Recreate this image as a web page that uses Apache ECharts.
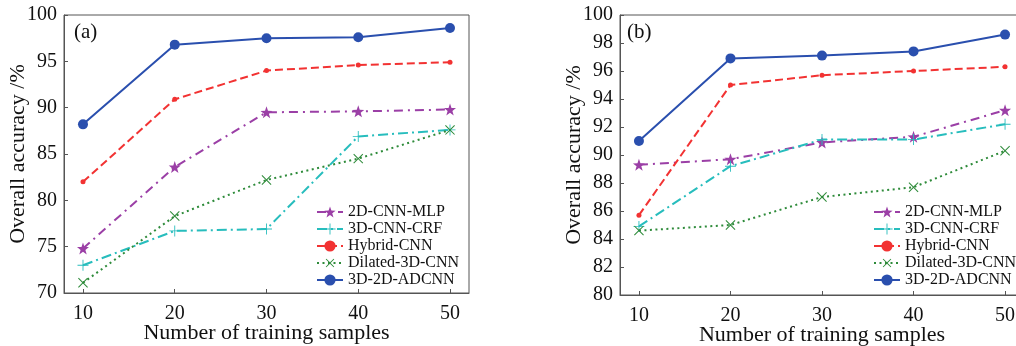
<!DOCTYPE html>
<html><head><meta charset="utf-8">
<script src="https://cdn.jsdelivr.net/npm/echarts@6/dist/echarts.min.js"></script>
<style>html,body{margin:0;padding:0;background:#fff}#c{width:1016px;height:346px}</style>
</head><body><div id="c"></div>
<script>
const samples = [10, 20, 30, 40, 50];
const seriesNames = ['2D-CNN-MLP', '3D-CNN-CRF', 'Hybrid-CNN', 'Dilated-3D-CNN', '3D-2D-ADCNN'];
// panel (a)
const mlpA = [74.8, 83.6, 89.5, 89.6, 89.8];
const crfA = [73.0, 76.7, 76.9, 86.9, 87.6];
const hybridA = [82.0, 90.9, 94.0, 94.6, 94.9];
const dilatedA = [71.1, 78.3, 82.2, 84.5, 87.6];
const adcnnA = [88.2, 96.8, 97.5, 97.6, 98.6];
// panel (b)
const mlpB = [89.3, 89.7, 90.9, 91.3, 93.2];
const crfB = [84.9, 89.2, 91.1, 91.1, 92.2];
const hybridB = [85.7, 95.0, 95.7, 96.0, 96.3];
const dilatedB = [84.6, 85.0, 87.0, 87.7, 90.3];
const adcnnB = [91.0, 96.9, 97.1, 97.4, 98.6];

const FONT = '"Liberation Serif","DejaVu Serif",serif';
function starPath() {
  let p = [];
  for (let i = 0; i < 10; i++) {
    const r = i % 2 === 0 ? 10 : 4;
    const a = -Math.PI / 2 + i * Math.PI / 5;
    p.push((i ? 'L' : 'M') + (r * Math.cos(a)).toFixed(2) + ',' + (r * Math.sin(a)).toFixed(2));
  }
  return 'path://' + p.join(' ') + ' Z';
}
const PLUS = 'path://M-0.8,-10 L0.8,-10 L0.8,-0.8 L10,-0.8 L10,0.8 L0.8,0.8 L0.8,10 L-0.8,10 L-0.8,0.8 L-10,0.8 L-10,-0.8 L-0.8,-0.8 Z';
const styles = [
  {color: '#9b3fa6', type: [9, 5, 2, 5], symbol: starPath(), size: 12, rot: 0},
  {color: '#27bdbd', type: [10, 4, 2, 4], symbol: PLUS, size: 11, rot: 0},
  {color: '#f23232', type: [8, 4], symbol: 'circle', size: 5, rot: 0},
  {color: '#2e8b3a', type: [2, 3.5], symbol: PLUS, size: 13, rot: 45},
  {color: '#2a4fae', type: 'solid', symbol: 'circle', size: 10, rot: 0}
];
const dataA = [mlpA, crfA, hybridA, dilatedA, adcnnA];
const dataB = [mlpB, crfB, hybridB, dilatedB, adcnnB];

function mkSeries(arr, idx) {
  return arr.map((vals, i) => ({
    name: seriesNames[i], type: 'line', xAxisIndex: idx, yAxisIndex: idx,
    data: samples.map((s, k) => [s, vals[k]]),
    symbol: styles[i].symbol, symbolSize: styles[i].size, symbolRotate: styles[i].rot,
    lineStyle: {color: styles[i].color, width: 2, type: styles[i].type},
    itemStyle: {color: styles[i].color, borderWidth: 0},
    emphasis: {disabled: true}, animation: false, z: 2 + (i === 4 ? 3 : 0)
  }));
}
function mkX(gi) {
  return {
    type: 'value', gridIndex: gi, min: 7.93, max: 52.07,
    name: 'Number of training samples', nameLocation: 'middle', nameGap: 29, nameMoveOverlap: false,
    nameTextStyle: {fontFamily: FONT, fontSize: 22, color: '#111'},
    axisLine: {lineStyle: {color: '#555', width: 1}},
    axisTick: {inside: true, length: 4, customValues: samples, lineStyle: {color: '#555'}},
    axisLabel: {customValues: samples, fontFamily: FONT, fontSize: 20, color: '#111', margin: 11},
    splitLine: {show: false}
  };
}
function mkY(gi, mn, mx, step) {
  return {
    type: 'value', gridIndex: gi, min: mn, max: mx, interval: step,
    name: 'Overall accuracy /%', nameLocation: 'middle', nameGap: 35, nameMoveOverlap: false,
    nameTextStyle: {fontFamily: FONT, fontSize: 22, color: '#111'},
    axisLine: {show: true, lineStyle: {color: '#555', width: 1}},
    axisTick: {show: true, inside: true, length: 4, lineStyle: {color: '#555'}},
    axisLabel: {fontFamily: FONT, fontSize: 20, color: '#111', margin: 7},
    splitLine: {show: false}
  };
}
function mkLegend(left) {
  return {
    orient: 'vertical', left: left, top: 199, itemWidth: 26, itemHeight: 14, itemGap: 1,
    padding: 5,
    textStyle: {fontFamily: FONT, fontSize: 16, color: '#111', lineHeight: 14},
    data: seriesNames, selectedMode: false
  };
}
const chart = echarts.init(document.getElementById('c'), null, {renderer: 'canvas'});
chart.setOption({
  animation: false,
  backgroundColor: '#fff',
  grid: [
    {left: 64, top: 15, width: 405, height: 278, show: true, borderColor: '#555', borderWidth: 1,
     containLabel: false, outerBoundsMode: 'none'},
    {left: 620, top: 15, width: 404, height: 280, show: true, borderColor: '#555', borderWidth: 1,
     containLabel: false, outerBoundsMode: 'none'}
  ],
  xAxis: [mkX(0), mkX(1)],
  yAxis: [mkY(0, 70, 100, 5), mkY(1, 80, 100, 2)],
  legend: [mkLegend(311), mkLegend(868)],
  graphic: [
    {type: 'text', left: 74, top: 22, style: {text: '(a)', font: '21px ' + FONT, fill: '#111'}},
    {type: 'text', left: 627, top: 22, style: {text: '(b)', font: '21px ' + FONT, fill: '#111'}}
  ],
  series: mkSeries(dataA, 0).concat(mkSeries(dataB, 1))
});
</script></body></html>
